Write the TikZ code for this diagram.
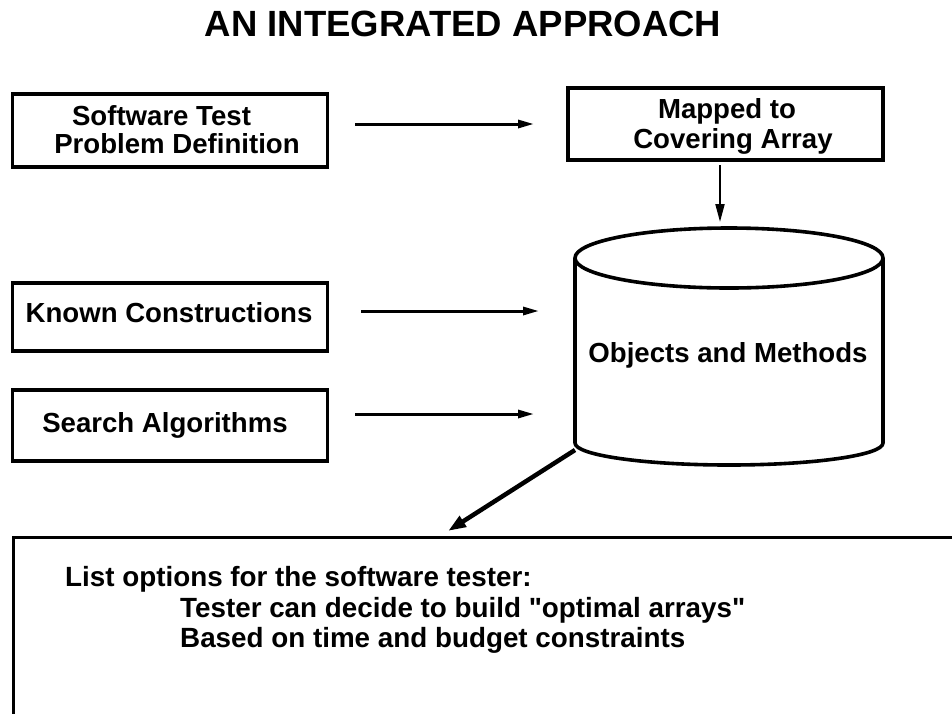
\documentclass[tikz,border=0pt]{standalone}
\usepackage{fontspec}
\setmainfont{Liberation Sans}
\newfontfamily\rawsans{Liberation Sans}
\usetikzlibrary{arrows.meta}
\begin{document}
\begin{tikzpicture}[x=1pt,y=-1pt,
  box/.style={draw, line width=3.4pt, rectangle, inner sep=0pt},
  lbl/.style={font=\bfseries\fontsize{27.6}{30}\selectfont, inner sep=0pt, anchor=base},
  lstx/.style={font=\rawsans\bfseries\fontsize{27.8}{30}\selectfont, inner sep=0pt, anchor=base west},
  harrow/.style={line width=3pt, -{Triangle[length=16pt,width=8pt]}},
  varrow/.style={line width=2pt, -{Triangle[length=18pt,width=9pt]}},
  darrow/.style={line width=4.5pt, -{Triangle[length=18pt,width=12pt]}},
  cyl/.style={line width=3.6pt}
]
\clip (0,0) rectangle (952,713);
\fill[white] (0,0) rectangle (952,713);

% title
\node[font=\bfseries\fontsize{36.5}{40}\selectfont, inner sep=0pt, anchor=base] (title) at (463,36) {AN INTEGRATED APPROACH};

% left boxes
\node[box, minimum width=315pt, minimum height=73pt] (b1) at (170,130.5) {};
\node[lbl] (t1a) at (161.5,125) {Software Test};
\node[lbl] (t1b) at (177,153) {Problem Definition};

\node[box, minimum width=315pt, minimum height=68pt] (b3) at (170,317) {};
\node[lbl] (t3) at (169,322) {Known Constructions};

\node[box, minimum width=315pt, minimum height=71pt] (b4) at (170,425.5) {};
\node[lbl] (t4) at (165,432) {Search Algorithms};

% mapped box
\node[box, minimum width=315pt, minimum height=72pt] (b2) at (725.5,124) {};
\node[lbl] (t2a) at (727,118) {Mapped to};
\node[lbl] (t2b) at (733,148) {Covering Array};

% cylinder
\draw[cyl] (729,258) ellipse [x radius=154, y radius=30];
\draw[cyl, line join=round] (575,258) -- (575,443) arc[start angle=180, end angle=0, x radius=154, y radius=22] -- (883,258);
\node[lbl] (cyl) at (728,362) {Objects and Methods};

% free arrow ends
\coordinate (a1s) at (355,124); \coordinate (a1e) at (534,124);
\coordinate (a2s) at (720,165); \coordinate (a2e) at (720,222);
\coordinate (a3s) at (361,311); \coordinate (a3e) at (539,311);
\coordinate (a4s) at (355,414); \coordinate (a4e) at (534,414);
\coordinate (a5s) at (575,450); \coordinate (a5e) at (448,531);

\draw[harrow] (a1s) -- (a1e);
\draw[varrow] (a2s) -- (a2e);
\draw[harrow] (a3s) -- (a3e);
\draw[harrow] (a4s) -- (a4e);
\draw[darrow] (a5s) -- (a5e);

% bottom box
\node[box, minimum width=980pt, minimum height=220pt, anchor=north west] (b5) at (12,536) {};
\node[lstx] (l1) at (65,586) {List options for the software tester:};
\node[lstx] (l2) at (180,617) {Tester can decide to build "optimal arrays"};
\node[lstx] (l3) at (180,647) {Based on time and budget constraints};
\end{tikzpicture}
\end{document}
